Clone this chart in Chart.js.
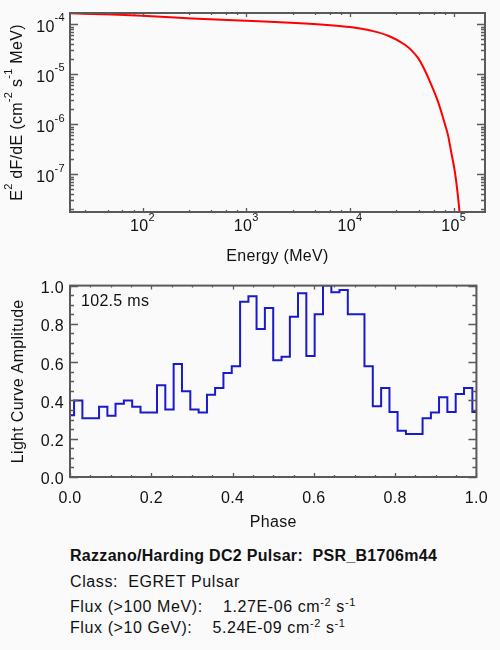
<!DOCTYPE html>
<html>
<head>
<meta charset="utf-8">
<script src="https://cdn.jsdelivr.net/npm/chart.js@4.4.1/dist/chart.umd.min.js"></script>
<style>
  html, body { margin: 0; padding: 0; background: #fafafa; }
  body { width: 500px; height: 650px; position: relative; overflow: hidden;
         font-family: "Liberation Sans", Arial, sans-serif; color: #111; }
  .box { position: absolute; left: 0; width: 500px; height: 270px; }
  #specBox { top: 0; }
  #lcBox { top: 270px; }
  .info { position: absolute; left: 70px; font-size: 16px; line-height: 18px;
          white-space: pre; letter-spacing: 0.6px; }
  .info sup { font-size: 11px; line-height: 0; vertical-align: 6px; }
  .bold { font-weight: bold; letter-spacing: 0.3px; }
</style>
</head>
<body>
<div class="box" id="specBox"><canvas id="spec"></canvas></div>
<div class="box" id="lcBox"><canvas id="lc"></canvas></div>

<div class="info bold" style="top:547px">Razzano/Harding DC2 Pulsar:  PSR_B1706m44</div>
<div class="info" style="top:573px">Class:  EGRET Pulsar</div>
<div class="info" style="top:598px">Flux (&gt;100 MeV):    1.27E-06 cm<sup>-2</sup> s<sup>-1</sup></div>
<div class="info" style="top:619px">Flux (&gt;10 GeV):    5.24E-09 cm<sup>-2</sup> s<sup>-1</sup></div>

<script>
// spectrum, E^2 dF/dE against energy
const energy = [20, 50, 100, 300, 1000, 3000, 6000, 10000, 16700, 24300, 33800, 39200,
                45400, 52600, 61000, 70600, 81900, 88100, 95000, 102000, 110000, 114000];
const e2flux = [1.66e-4, 1.56e-4, 1.48e-4, 1.31e-4, 1.17e-4, 1.06e-4, 9.7e-5, 8.8e-5, 7.3e-5,
                5.7e-5, 3.9e-5, 3.0e-5, 2.1e-5, 1.2e-5, 6.0e-6, 2.8e-6, 1.03e-6, 6.0e-7,
                2.6e-7, 1.2e-7, 3.5e-8, 1.64e-8];

// light curve, one value per phase bin
const phase = [0.000, 0.020, 0.041, 0.061, 0.082, 0.102, 0.122, 0.143, 0.163, 0.184,
               0.204, 0.224, 0.245, 0.265, 0.286, 0.306, 0.327, 0.347, 0.367, 0.388,
               0.408, 0.429, 0.449, 0.469, 0.490, 0.510, 0.531, 0.551, 0.571, 0.592,
               0.612, 0.633, 0.653, 0.673, 0.694, 0.714, 0.735, 0.755, 0.776, 0.796,
               0.816, 0.837, 0.857, 0.878, 0.898, 0.918, 0.939, 0.959, 0.980, 1.000];
const amplitude = [0.323, 0.40, 0.307, 0.307, 0.367, 0.32, 0.383, 0.40, 0.367, 0.337,
                   0.337, 0.48, 0.353, 0.59, 0.448, 0.353, 0.337, 0.43, 0.465, 0.543,
                   0.578, 0.915, 0.945, 0.773, 0.883, 0.61, 0.628, 0.837, 0.96, 0.632,
                   0.85, 1.0, 0.965, 0.977, 0.85, 0.85, 0.578, 0.37, 0.465, 0.34,
                   0.242, 0.225, 0.225, 0.307, 0.337, 0.417, 0.34, 0.433, 0.465, 0.34];

// tick labels
const energyExps = [2, 3, 4, 5];
const fluxExps = [-7, -6, -5, -4];
const energyMinor = [28, 46, 64, 82, 280, 460, 640, 820, 2800, 4600, 6400, 8200,
                     28000, 46000, 64000, 82000];
const fluxMinor = [2e-8, 3e-8, 4e-8, 5e-8, 6e-8, 7e-8, 8e-8, 9e-8,
                   2e-7, 3e-7, 4e-7, 5e-7, 6e-7, 7e-7, 8e-7, 9e-7,
                   2e-6, 3e-6, 4e-6, 5e-6, 6e-6, 7e-6, 8e-6, 9e-6,
                   2e-5, 3e-5, 4e-5, 5e-5, 6e-5, 7e-5, 8e-5, 9e-5];
const phaseMajor = [0, 0.2, 0.4, 0.6, 0.8, 1.0];
const phaseMinor = [0.05, 0.1, 0.15, 0.25, 0.3, 0.35, 0.45, 0.5, 0.55, 0.65, 0.7, 0.75, 0.85, 0.9, 0.95];
const periodLabel = '102.5 ms';

const FONT = '"Liberation Sans", Arial, sans-serif';
const SIZE = 16;
const INK = '#111';
const AXIS = '#5a5a5a';

// draws a string made of normal and superscript pieces, centred at cx
function richText(ctx, parts, cx, cy, size) {
  const big = size + 'px ' + FONT;
  const small = Math.round(size * 0.68) + 'px ' + FONT;
  let w = 0;
  parts.forEach(p => { ctx.font = p[1] ? small : big; w += ctx.measureText(p[0]).width; });
  let x = cx - w / 2;
  ctx.textAlign = 'left';
  ctx.textBaseline = 'middle';
  parts.forEach(p => {
    ctx.font = p[1] ? small : big;
    ctx.fillText(p[0], x, p[1] ? cy - size * 0.55 : cy);
    x += ctx.measureText(p[0]).width;
  });
  return w;
}

// slightly wider text, like the original
const spacing = {
  id: 'spacing',
  beforeUpdate(chart) { chart.ctx.letterSpacing = '0.3px'; },
  beforeDraw(chart) { chart.ctx.letterSpacing = '0.3px'; }
};

// box round the plot with inward ticks on every side
const frame = {
  id: 'frame',
  afterDatasetsDraw(chart, args, o) {
    const { ctx, chartArea: a, scales: { x, y } } = chart;
    ctx.save();
    ctx.strokeStyle = AXIS;
    ctx.lineWidth = 1.3;
    ctx.beginPath();
    const xt = (vals, len) => vals.forEach(v => {
      const px = Math.round(x.getPixelForValue(v)) + 0.5;
      ctx.moveTo(px, a.bottom); ctx.lineTo(px, a.bottom - len);
      ctx.moveTo(px, a.top); ctx.lineTo(px, a.top + len);
    });
    const yt = (vals, len) => vals.forEach(v => {
      const py = Math.round(y.getPixelForValue(v)) + 0.5;
      ctx.moveTo(a.left, py); ctx.lineTo(a.left + len, py);
      ctx.moveTo(a.right, py); ctx.lineTo(a.right - len, py);
    });
    xt(o.xMajor, 4); xt(o.xMinor, 2);
    yt(o.yMajor, 8); yt(o.yMinor, 4);
    ctx.stroke();
    ctx.lineWidth = 2;
    ctx.strokeRect(a.left, a.top, a.right - a.left, a.bottom - a.top);
    ctx.restore();
  }
};

// 10^n labels and the y title of the spectrum
const powLabels = {
  id: 'powLabels',
  afterDraw(chart) {
    const { ctx, chartArea: a, scales: { x, y } } = chart;
    if (chart.canvas.id !== 'spec') return;
    ctx.save();
    ctx.fillStyle = INK;
    energyExps.forEach(n => {
      const px = x.getPixelForValue(Math.pow(10, n));
      richText(ctx, [['10', false], [String(n), true]], px, a.bottom + 15, SIZE);
    });
    fluxExps.forEach(n => {
      const py = y.getPixelForValue(Math.pow(10, n));
      ctx.font = SIZE + 'px ' + FONT;
      const wb = ctx.measureText('10').width;
      ctx.font = Math.round(SIZE * 0.68) + 'px ' + FONT;
      const we = ctx.measureText(String(n)).width;
      richText(ctx, [['10', false], [String(n), true]], a.left - 5 - (wb + we) / 2, py + 3, SIZE);
    });
    ctx.translate(18, (a.top + a.bottom) / 2);
    ctx.rotate(-Math.PI / 2);
    richText(ctx, [['E', false], ['2', true], [' dF/dE (cm', false], ['-2', true],
                   [' s', false], ['-1', true], [' MeV)', false]], 0, 0, SIZE);
    ctx.restore();
  }
};

const periodTag = {
  id: 'periodTag',
  afterDraw(chart) {
    if (chart.canvas.id !== 'lc') return;
    const { ctx, chartArea: a } = chart;
    ctx.save();
    ctx.fillStyle = INK;
    ctx.font = SIZE + 'px ' + FONT;
    ctx.textBaseline = 'middle';
    ctx.fillText(periodLabel, a.left + 11, a.top + 16);
    ctx.restore();
  }
};

Chart.register(spacing, frame, powLabels, periodTag);

// the original nudges the end labels of the amplitude axis inwards
function ampLabelOffset(c) {
  if (!c.tick) return 3;
  if (c.tick.value === 1) return 8;
  if (c.tick.value === 0) return -5;
  return 3;
}

new Chart(document.getElementById('spec'), {
  type: 'line',
  data: {
    datasets: [{
      data: energy.map((e, i) => ({ x: e, y: e2flux[i] })),
      borderColor: '#ff0000',
      borderWidth: 2,
      pointRadius: 0,
      cubicInterpolationMode: 'monotone',
      fill: false
    }]
  },
  options: {
    responsive: true,
    maintainAspectRatio: false,
    animation: false,
    layout: { padding: { top: 13, right: 15, left: 0, bottom: 0 } },
    plugins: {
      legend: { display: false },
      tooltip: { enabled: false },
      frame: { xMajor: energyExps.map(n => Math.pow(10, n)), xMinor: energyMinor,
               yMajor: fluxExps.map(n => Math.pow(10, n)), yMinor: fluxMinor }
    },
    scales: {
      x: {
        type: 'logarithmic', min: 20, max: 2e5, bounds: 'data',
        grid: { display: false, drawTicks: false }, border: { display: false },
        ticks: { display: false },
        title: { display: true, text: 'Energy (MeV)', color: INK,
                 font: { size: SIZE, family: FONT }, padding: { top: 0, bottom: 4 } },
        afterFit(s) { s.height = 58; }
      },
      y: {
        type: 'logarithmic', min: 1.76e-8, max: 1.68e-4, bounds: 'data',
        grid: { display: false, drawTicks: false }, border: { display: false },
        ticks: { display: false },
        afterFit(s) { s.width = 70; }
      }
    }
  }
});

new Chart(document.getElementById('lc'), {
  type: 'line',
  data: {
    datasets: [{
      data: phase.map((p, i) => ({ x: p, y: amplitude[i] })),
      borderColor: '#1a1acc',
      borderWidth: 2,
      pointRadius: 0,
      stepped: 'middle',
      fill: false
    }]
  },
  options: {
    responsive: true,
    maintainAspectRatio: false,
    animation: false,
    layout: { padding: { top: 7, right: 15, left: 0, bottom: 0 } },
    plugins: {
      legend: { display: false },
      tooltip: { enabled: false },
      frame: { xMajor: phaseMajor, xMinor: phaseMinor, yMajor: phaseMajor, yMinor: phaseMinor }
    },
    scales: {
      x: {
        type: 'linear', min: 0, max: 1,
        grid: { display: false, drawTicks: false }, border: { display: false },
        ticks: { stepSize: 0.2, padding: 12, color: INK, autoSkip: false, maxRotation: 0,
                 font: { size: SIZE, family: FONT }, callback: v => v.toFixed(1) },
        title: { display: true, text: 'Phase', color: INK,
                 font: { size: SIZE, family: FONT }, padding: { top: 0, bottom: 8 } },
        afterFit(s) { s.height = 63; }
      },
      y: {
        min: 0, max: 1,
        grid: { display: false, drawTicks: false }, border: { display: false },
        ticks: { stepSize: 0.2, padding: 6, color: INK, font: { size: SIZE, family: FONT },
                 labelOffset: ampLabelOffset, callback: v => v.toFixed(1) },
        title: { display: true, text: 'Light Curve Amplitude', color: INK,
                 font: { size: SIZE, family: FONT }, padding: { top: 9, bottom: 0 } },
        afterFit(s) { s.width = 70; }
      }
    }
  }
});
</script>
</body>
</html>
